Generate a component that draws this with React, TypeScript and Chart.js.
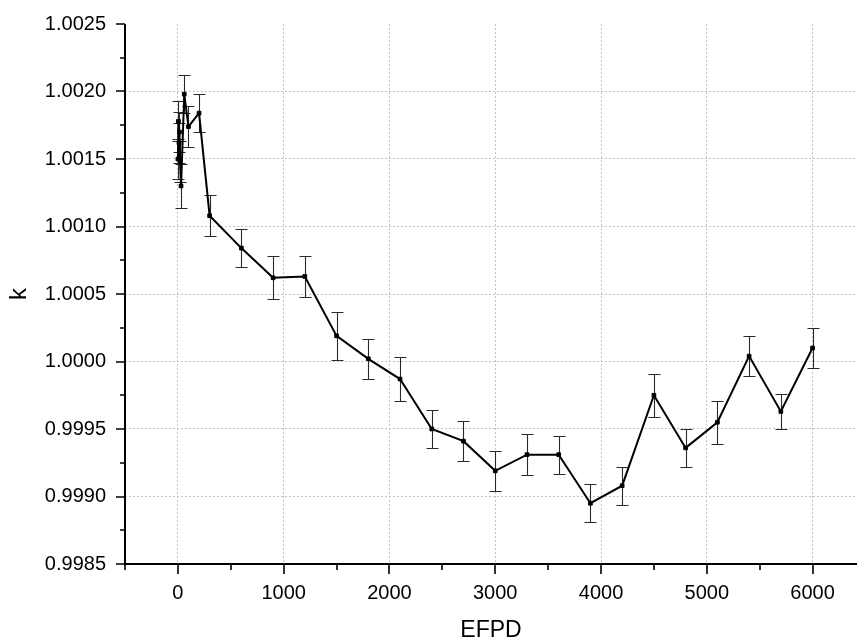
import React, { useEffect, useRef } from "react";
import { Chart, registerables } from "chart.js";

Chart.register(...registerables);

// EFPD (x) values
const efpd = [0, 5, 10, 15, 20, 30, 60, 100, 200, 300, 600, 900, 1200, 1500, 1800, 2100, 2400, 2700, 3000, 3300, 3600, 3900, 4200, 4500, 4800, 5100, 5400, 5700, 6000];
// k values
const kValues = [1.0015, 1.00178, 1.00162, 1.0017, 1.00148, 1.0013, 1.00198, 1.00174, 1.00184, 1.00108, 1.00084, 1.00062, 1.00063, 1.00019, 1.00002, 0.99987, 0.9995, 0.99941, 0.99919, 0.99931, 0.99931, 0.99895, 0.99908, 0.99975, 0.99936, 0.99955, 1.00004, 0.99963, 1.0001];
// k uncertainties (+/-)
const kErrors = [0.00015, 0.00015, 0.00015, 0.00015, 0.00015, 0.00016, 0.00014, 0.00015, 0.00014, 0.00015, 0.00014, 0.00016, 0.00015, 0.00018, 0.00015, 0.00016, 0.00014, 0.00015, 0.00015, 0.00015, 0.00014, 0.00014, 0.00014, 0.00016, 0.00014, 0.00016, 0.00015, 0.00013, 0.00015];

// Axis ticks
const xTicks = [0, 1000, 2000, 3000, 4000, 5000, 6000];
const xMinorTicks = [-500, 500, 1500, 2500, 3500, 4500, 5500];
const yTicks = [0.9985, 0.999, 0.9995, 1.0, 1.0005, 1.001, 1.0015, 1.002, 1.0025];
const yMinorTicks = [0.99875, 0.99925, 0.99975, 1.00025, 1.00075, 1.00125, 1.00175, 1.00225];

const FONT = "'Liberation Sans', Arial, sans-serif";

const errorBarPlugin = {
  id: "errorBars",
  beforeDatasetsDraw(chart: any) {
    const { ctx, scales } = chart;
    const x = scales.x;
    const y = scales.y;
    ctx.save();
    ctx.strokeStyle = "#2a2a2a";
    ctx.lineWidth = 1.1;
    efpd.forEach((e, i) => {
      const px = Math.round(x.getPixelForValue(e)) + 0.5;
      const top = Math.round(y.getPixelForValue(kValues[i] + kErrors[i])) + 0.5;
      const bot = Math.round(y.getPixelForValue(kValues[i] - kErrors[i])) + 0.5;
      ctx.beginPath();
      ctx.moveTo(px, top);
      ctx.lineTo(px, bot);
      ctx.moveTo(px - 6, top);
      ctx.lineTo(px + 6, top);
      ctx.moveTo(px - 6, bot);
      ctx.lineTo(px + 6, bot);
      ctx.stroke();
    });
    ctx.restore();
  },
};

const axesPlugin = {
  id: "axesTicks",
  afterDraw(chart: any) {
    const { ctx, chartArea, scales } = chart;
    const x = scales.x;
    const y = scales.y;
    const { left, right, top, bottom } = chartArea;
    ctx.save();
    ctx.strokeStyle = "#000";
    ctx.lineWidth = 2;
    ctx.beginPath();
    ctx.moveTo(left, top);
    ctx.lineTo(left, bottom);
    ctx.lineTo(right, bottom);
    ctx.stroke();
    ctx.lineWidth = 1.6;
    ctx.beginPath();
    yTicks.forEach((v) => {
      const py = Math.round(y.getPixelForValue(v));
      ctx.moveTo(left - 9, py);
      ctx.lineTo(left, py);
    });
    yMinorTicks.forEach((v) => {
      const py = Math.round(y.getPixelForValue(v));
      ctx.moveTo(left - 5, py);
      ctx.lineTo(left, py);
    });
    xTicks.forEach((v) => {
      const px = Math.round(x.getPixelForValue(v));
      ctx.moveTo(px, bottom);
      ctx.lineTo(px, bottom + 10);
    });
    xMinorTicks.forEach((v) => {
      const px = Math.round(x.getPixelForValue(v));
      ctx.moveTo(px, bottom);
      ctx.lineTo(px, bottom + 6);
    });
    ctx.stroke();
    ctx.restore();
  },
};

export default function App() {
  const canvasRef = useRef<HTMLCanvasElement | null>(null);

  useEffect(() => {
    const canvas = canvasRef.current;
    if (!canvas) return;
    const points = efpd.map((e, i) => ({ x: e, y: kValues[i] }));
    const chart = new Chart(canvas, {
      type: "line",
      data: {
        datasets: [
          {
            data: points,
            borderColor: "#000",
            borderWidth: 2,
            backgroundColor: "#000",
            pointStyle: "rect",
            pointRadius: 2.6,
            pointBorderWidth: 1,
            pointBorderColor: "#000",
            pointBackgroundColor: "#000",
            tension: 0,
            fill: false,
          },
        ],
      },
      options: {
        responsive: false,
        animation: false,
        layout: { autoPadding: false, padding: { top: 24, left: 0, right: 0, bottom: 0 } },
        plugins: {
          legend: { display: false },
          tooltip: { enabled: false },
        },
        scales: {
          x: {
            type: "linear",
            min: -500,
            max: 6420,
            afterBuildTicks: (scale: any) => {
              scale.ticks = xTicks.map((v) => ({ value: v }));
            },
            afterFit: (scale: any) => {
              scale.height = 80;
              scale.paddingLeft = 0;
              scale.paddingRight = 0;
            },
            ticks: {
              color: "#000",
              font: { family: FONT, size: 20 },
              padding: 17,
              maxRotation: 0,
              callback: (v: any) => String(v),
            },
            grid: {
              drawTicks: false,
              color: "#c4c4c4",
              lineWidth: 1,
            },
            border: { display: false, dash: [2, 2] },
            title: {
              display: true,
              text: "EFPD",
              color: "#000",
              font: { family: FONT, size: 23 },
              padding: { top: 0, bottom: 0 },
            },
          },
          y: {
            type: "linear",
            min: 0.9985,
            max: 1.0025,
            afterBuildTicks: (scale: any) => {
              scale.ticks = yTicks.map((v) => ({ value: v }));
            },
            afterFit: (scale: any) => {
              scale.width = 125;
              scale.paddingTop = 0;
              scale.paddingBottom = 0;
            },
            ticks: {
              color: "#000",
              font: { family: FONT, size: 20 },
              padding: 19,
              callback: (v: any) => Number(v).toFixed(4),
            },
            grid: {
              drawTicks: false,
              color: (ctx: any) =>
                ctx.tick && (ctx.tick.value <= 0.99851 || ctx.tick.value >= 1.00249)
                  ? "rgba(0,0,0,0)"
                  : "#c4c4c4",
              lineWidth: 1,
            },
            border: { display: false, dash: [2, 2] },
            title: {
              display: true,
              text: "k",
              color: "#000",
              font: { family: FONT, size: 24 },
              padding: { top: 5, bottom: 0 },
            },
          },
        },
      },
      plugins: [errorBarPlugin, axesPlugin],
    });
    return () => chart.destroy();
  }, []);

  return (
    <div style={{ position: "fixed", left: 0, top: 0, width: 857, height: 644, background: "#fff" }}>
      <canvas ref={canvasRef} width={857} height={644} style={{ display: "block" }} />
    </div>
  );
}
